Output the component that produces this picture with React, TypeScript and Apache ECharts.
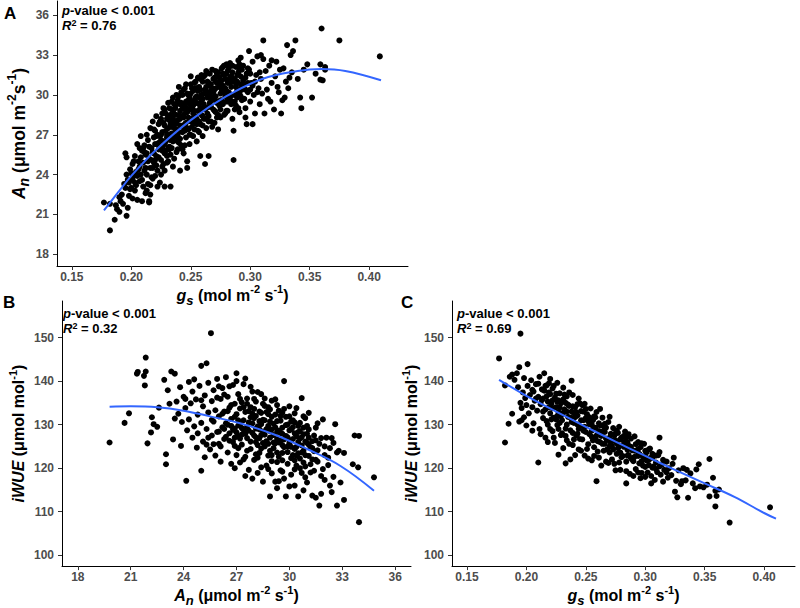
import { useEffect, useRef } from 'react';
import * as echarts from 'echarts';

const F = '"Liberation Sans", Arial, sans-serif';

const gsTicks = [0.15, 0.2, 0.25, 0.3, 0.35, 0.4];
const anTicks = [18, 21, 24, 27, 30, 33, 36];
const wueTicks = [100, 110, 120, 130, 140, 150];

const statsA = { p: '< 0.001', r2: '0.76' };
const statsB = { p: '< 0.001', r2: '0.32' };
const statsC = { p: '< 0.001', r2: '0.69' };

// Panel A: gs vs An
const pointsA: [number, number][] = [
  [0.177,21.9],[0.182,21.8],[0.182,19.8],[0.186,20.6],[0.188,21.4],[0.190,21.2],[0.191,22.0],[0.193,21.8],[0.196,20.9],[0.192,22.5],
  [0.194,23.3],[0.195,23.0],[0.196,24.0],[0.197,23.6],[0.195,25.6],[0.196,25.3],[0.198,22.4],[0.199,24.4],[0.200,23.0],[0.201,24.8],
  [0.202,23.9],[0.203,22.8],[0.203,25.4],[0.204,24.2],[0.205,22.1],[0.205,26.3],[0.206,25.0],[0.207,23.5],[0.207,24.6],[0.208,26.9],
  [0.209,25.8],[0.210,23.1],[0.210,24.9],[0.211,26.2],[0.212,22.6],[0.212,25.5],[0.213,24.0],[0.213,27.0],[0.214,23.3],[0.214,26.6],
  [0.215,25.2],[0.215,22.0],[0.216,24.5],[0.216,27.5],[0.217,26.0],[0.217,23.8],[0.218,25.7],[0.218,28.0],[0.219,24.9],[0.219,26.8],
  [0.220,23.9],[0.220,27.3],[0.221,25.4],[0.221,28.4],[0.222,26.3],[0.222,24.3],[0.223,27.8],[0.223,25.9],[0.224,23.4],[0.224,26.9],
  [0.225,28.2],[0.225,25.1],[0.226,27.2],[0.226,24.6],[0.227,26.5],[0.227,29.0],[0.228,23.1],[0.228,27.7],[0.229,25.8],[0.229,28.6],
  [0.230,26.8],[0.230,24.9],[0.231,27.5],[0.231,29.4],[0.232,26.1],[0.232,28.1],[0.233,23.1],[0.233,25.5],[0.234,27.1],[0.234,28.9],
  [0.235,26.5],[0.235,29.8],[0.236,27.9],[0.236,25.2],[0.237,28.5],[0.237,26.9],[0.238,29.3],[0.238,27.4],[0.239,25.9],[0.239,28.1],
  [0.240,26.4],[0.240,29.9],[0.241,27.7],[0.241,28.8],[0.242,26.2],[0.242,30.2],[0.243,27.2],[0.243,29.1],[0.244,28.3],[0.244,25.6],
  [0.245,27.8],[0.245,30.5],[0.246,26.8],[0.246,29.5],[0.247,24.5],[0.247,28.7],[0.248,27.4],[0.248,30.0],[0.249,28.1],[0.249,26.3],
  [0.250,29.2],[0.250,30.8],[0.251,27.6],[0.251,28.9],[0.252,26.9],[0.252,30.3],[0.253,29.6],[0.253,27.9],[0.254,28.4],[0.254,31.0],
  [0.255,26.5],[0.255,29.9],[0.256,28.8],[0.256,27.3],[0.257,30.6],[0.257,29.3],[0.258,27.8],[0.258,31.2],[0.259,28.5],[0.259,30.0],
  [0.260,26.9],[0.260,29.7],[0.261,28.2],[0.261,31.4],[0.262,24.8],[0.262,30.4],[0.263,29.0],[0.263,27.5],[0.264,31.0],[0.264,28.6],
  [0.265,30.2],[0.265,25.4],[0.266,29.4],[0.266,31.6],[0.267,28.0],[0.267,30.8],[0.268,29.6],[0.268,27.6],[0.269,31.2],[0.270,28.8],
  [0.270,30.4],[0.271,29.9],[0.271,31.8],[0.272,28.3],[0.272,30.9],[0.273,27.4],[0.273,29.5],[0.274,31.3],[0.275,30.1],[0.275,28.9],
  [0.276,32.0],[0.276,29.6],[0.277,30.7],[0.278,28.5],[0.278,31.5],[0.279,29.9],[0.280,32.3],[0.280,30.3],[0.281,28.8],[0.282,31.1],
  [0.282,29.5],[0.283,32.4],[0.284,30.6],[0.285,28.2],[0.285,31.7],[0.286,27.3],[0.286,25.1],[0.287,30.0],[0.288,32.1],[0.288,29.2],
  [0.289,31.0],[0.290,32.6],[0.290,30.4],[0.291,28.7],[0.292,31.4],[0.293,29.6],[0.294,32.2],[0.295,30.8],[0.296,29.0],[0.297,31.6],
  [0.297,27.8],[0.298,30.2],[0.299,33.3],[0.299,31.9],[0.300,29.5],[0.301,30.9],[0.302,32.5],[0.303,30.0],[0.304,28.6],[0.305,31.5],
  [0.306,32.9],[0.307,30.5],[0.308,29.3],[0.309,31.2],[0.310,30.1],[0.311,34.1],[0.311,32.7],[0.312,28.6],[0.313,31.8],[0.314,30.4],
  [0.315,29.7],[0.316,32.2],[0.318,30.9],[0.320,28.9],[0.321,31.4],[0.322,32.5],[0.324,30.2],[0.325,31.9],[0.327,29.6],[0.328,32.0],
  [0.330,31.0],[0.331,33.75],[0.332,30.5],[0.334,33.0],[0.335,31.7],[0.336,33.3],[0.338,34.1],[0.340,31.2],[0.342,29.8],[0.343,29.0],
  [0.345,31.9],[0.348,32.3],[0.352,29.8],[0.355,31.6],[0.359,32.3],[0.359,31.15],[0.360,35.0],[0.361,31.1],[0.363,32.1],[0.363,31.9],
  [0.375,34.1],[0.409,32.9],
  [0.219,25.6],[0.221,26.9],[0.223,26.4],[0.225,27.0],[0.226,25.8],[0.228,26.3],[0.229,27.3],[0.231,26.0],[0.232,27.0],[0.233,28.5],
  [0.235,27.6],[0.236,26.8],[0.237,27.4],[0.238,28.0],[0.240,27.2],[0.241,26.7],[0.242,28.4],[0.243,27.6],[0.244,29.0],[0.245,28.6],
  [0.246,27.9],[0.247,29.4],[0.248,28.3],[0.249,27.0],[0.250,28.0],[0.251,29.5],[0.252,28.6],[0.253,27.4],[0.254,29.8],[0.255,28.2],
  [0.256,30.3],[0.257,28.0],[0.258,29.0],[0.259,29.5],[0.260,28.4],[0.261,30.1],[0.262,28.9],[0.263,30.6],[0.264,29.8],[0.265,28.4],
  [0.266,30.0],[0.267,29.1],[0.268,30.5],[0.269,28.9],[0.270,29.7],[0.271,30.5],[0.272,29.4],[0.273,30.9],[0.274,29.2],[0.275,31.0],
  [0.276,30.4],[0.277,29.3],[0.278,30.2],[0.279,31.2],[0.280,29.5],[0.281,30.9],[0.282,30.2],[0.283,29.8],[0.284,31.4],[0.285,30.0],
  [0.287,31.2],[0.288,30.6],[0.289,29.8],[0.290,31.7],[0.291,30.1],[0.292,30.8],[0.293,31.9],[0.294,30.5],[0.295,29.7],[0.296,31.3],
  [0.298,30.9],[0.300,31.6],[0.302,30.7],[0.304,31.0],[0.306,30.2],[0.308,31.7],[0.243,25.9],[0.238,25.7],[0.230,25.4],[0.225,24.0],
  [0.218,23.7],[0.212,24.5],[0.208,24.0],[0.214,25.0],[0.220,25.1],[0.227,24.8],[0.234,26.0],[0.239,26.5],[0.245,26.2],[0.250,27.0],
  [0.255,27.8],[0.260,27.7],[0.265,28.0],[0.270,27.9],[0.275,28.3],[0.280,28.8],[0.258,25.4],[0.247,25.0],[0.235,24.6],[0.228,24.3],
  [0.241,24.3],[0.209,22.0],[0.203,23.4],[0.199,22.9],[0.190,22.3],[0.187,21.7],[0.197,21.5],[0.201,22.2],[0.215,21.9],[0.216,22.5],
  [0.302,27.8],[0.296,28.3],[0.317,29.5],[0.323,30.6],[0.326,28.6],[0.329,29.8],[0.333,31.3],[0.318,32.6],[0.309,33.0],[0.292,32.8],
  [0.222,27.0],[0.224,28.0],[0.226,28.6],[0.228,28.9],[0.230,28.2],[0.232,29.0],[0.234,29.5],[0.236,28.6],[0.238,30.0],[0.240,28.5],
  [0.242,29.4],[0.244,30.4],[0.246,29.0],[0.248,29.6],[0.250,30.1],[0.252,29.2],[0.254,30.5],[0.256,31.3],[0.258,30.4],[0.260,31.0],
  [0.262,31.5],[0.264,30.0],[0.266,30.7],[0.268,31.9],[0.270,31.3],[0.272,31.6],[0.274,30.6],[0.276,31.1],[0.278,32.2],[0.280,31.6],
  [0.282,32.0],[0.284,29.3],[0.286,31.0],[0.288,30.9],[0.290,29.0],[0.292,29.9],[0.294,31.1],[0.296,30.4],[0.298,32.0],[0.300,30.4],
  [0.215,26.1],[0.217,25.1],[0.219,27.4],[0.221,24.7],[0.223,25.3],[0.225,26.6],[0.227,27.9],[0.229,26.5],[0.231,25.0],[0.233,26.6],
  [0.235,28.2],[0.237,27.8],[0.239,26.9],[0.241,29.3],[0.243,28.4],[0.245,27.3],[0.247,27.5],[0.249,29.8],[0.251,28.2],[0.253,28.8],
  [0.255,30.5],[0.257,27.2],[0.259,28.9],[0.261,29.3],[0.263,28.2],[0.265,29.1],[0.267,30.3],[0.269,29.8],[0.271,28.7],[0.273,28.5],
  [0.275,29.6],[0.277,31.6],[0.279,28.6],[0.281,29.9],[0.283,30.9],[0.285,29.5],[0.287,28.9],[0.289,30.3],[0.291,31.9],[0.293,30.4],
  [0.200,24.1],[0.202,25.0],[0.204,23.2],[0.206,24.4],[0.208,25.3],[0.210,26.0],[0.211,24.3],[0.213,25.6],[0.198,23.4],[0.201,23.6],
  [0.205,23.9],[0.207,26.0],[0.209,23.6],[0.211,25.7],[0.213,22.8],[0.216,23.2],[0.218,24.5],[0.220,26.3],[0.222,23.1],
  [0.231,28.4],[0.233,27.8],[0.235,27.0],[0.237,29.0],[0.239,29.6],[0.241,28.2],[0.243,30.0],[0.245,29.2],[0.247,30.1],[0.249,28.9],
  [0.251,30.5],[0.253,30.9],[0.255,29.4],[0.257,29.8],[0.259,31.5],[0.261,29.0],[0.263,31.8],[0.265,30.9],[0.267,29.7],[0.269,30.2],
  [0.271,31.0],[0.273,31.7],[0.275,30.6],[0.277,32.1],[0.279,30.5],[0.281,31.8],[0.283,31.3],[0.285,32.2],[0.287,29.5],[0.289,31.5],
  [0.291,32.3],[0.226,26.0],[0.228,25.6],[0.230,27.0],[0.232,25.9],[0.234,27.6],[0.236,29.3],[0.240,30.6],[0.246,30.8],[0.250,31.4],
];
const fitA: [number, number][] = [
  [0.177,21.3],[0.19,22.8],[0.20,23.9],[0.22,25.8],[0.25,28.1],[0.28,29.9],[0.31,31.2],[0.34,31.8],[0.36,31.95],[0.38,31.8],[0.41,31.1],
];

// Panel B: An vs iWUE
const pointsB: [number, number][] = [
  [19.8,125.9],[20.65,130.4],[20.9,132.6],[21.35,141.7],[21.4,142.1],[21.85,145.4],[21.75,141.2],[21.85,142.2],[21.8,139.0],[21.95,125.7],
  [22.2,131.7],[22.15,128.2],[22.3,130.1],[22.5,129.5],[22.6,133.9],[22.9,140.3],[23.0,123.2],[23.0,120.9],[23.3,142.2],[23.5,141.7],
  [23.4,126.6],[23.2,134.8],[23.1,137.9],[23.6,135.3],[23.7,132.5],[23.8,138.6],[23.85,125.1],[23.9,130.6],[24.0,136.4],[24.1,133.8],
  [24.15,117.1],[24.2,128.7],[24.3,139.8],[24.3,131.2],[24.4,134.9],[24.5,127.0],[24.5,137.6],[24.6,129.6],[24.7,135.8],[24.75,124.7],
  [24.8,132.3],[24.9,138.9],[25.0,143.5],[25.0,119.4],[25.0,130.4],[25.1,126.1],[25.1,134.2],[25.2,122.5],[25.2,136.7],[25.3,144.1],
  [25.3,129.0],[25.4,132.8],[25.4,139.6],[25.5,124.3],[25.55,151.0],[25.6,127.5],[25.6,135.4],[25.7,130.7],[25.7,137.9],[25.8,122.9],
  [25.8,133.3],[25.9,128.3],[25.9,140.5],[26.0,125.6],[26.0,131.9],[26.1,135.9],[26.1,121.5],[26.2,129.4],[26.2,138.4],[26.3,133.0],
  [26.3,126.7],[26.4,140.9],[26.4,130.3],[26.5,123.6],[26.5,136.4],[26.6,128.0],[26.6,133.9],[26.7,121.0],[26.7,131.3],[26.8,139.1],
  [26.8,126.0],[26.9,134.8],[26.9,129.1],[27.0,141.8],[27.0,123.0],[27.0,132.4],[27.1,127.3],[27.1,137.0],[27.2,130.1],[27.2,121.3],
  [27.3,135.1],[27.3,125.4],[27.4,128.8],[27.4,139.3],[27.5,132.9],[27.5,122.6],[27.6,126.9],[27.6,136.0],[27.7,130.5],[27.7,119.6],
  [27.8,134.0],[27.8,124.4],[27.9,128.1],[27.9,137.6],[28.0,131.5],[28.0,121.9],[28.1,126.0],[28.1,135.3],[28.2,129.6],[28.2,118.9],
  [28.3,133.0],[28.3,123.5],[28.4,127.6],[28.4,137.0],[28.5,116.9],[28.5,131.1],[28.6,125.0],[28.6,134.3],[28.7,120.6],[28.7,129.0],
  [28.8,132.4],[28.8,122.9],[28.9,113.5],[28.9,127.0],[29.0,135.5],[29.0,118.8],[29.1,130.2],[29.1,124.6],[29.2,116.9],[29.2,135.8],
  [29.3,128.3],[29.3,121.4],[29.4,133.2],[29.4,125.9],[29.5,119.5],[29.5,130.9],[29.6,123.5],[29.6,127.9],[29.7,140.0],[29.7,117.6],
  [29.8,113.5],[29.8,131.8],[29.9,125.0],[29.9,121.0],[30.0,128.7],[30.0,134.2],[30.1,118.5],[30.1,126.4],[30.2,123.0],[30.2,131.0],
  [30.3,128.0],[30.3,116.0],[30.4,124.9],[30.4,120.6],[30.5,129.7],[30.5,113.5],[30.6,126.8],[30.6,122.2],[30.7,136.1],[30.7,118.9],
  [30.8,127.8],[30.8,124.0],[30.9,120.4],[30.9,131.5],[31.0,125.8],[31.0,116.7],[31.1,128.9],[31.1,122.8],[31.2,119.0],[31.3,113.7],
  [31.3,126.2],[31.4,119.4],[31.4,123.9],[31.5,129.3],[31.6,121.5],[31.7,111.4],[31.7,125.6],[31.8,114.1],[31.8,118.2],[31.9,131.2],
  [32.0,123.0],[32.1,127.0],[32.2,120.7],[32.3,116.0],[32.3,124.6],[32.4,114.5],[32.4,126.9],[32.5,118.0],[32.6,130.1],[32.7,123.6],
  [32.7,111.4],[32.9,116.7],[33.1,112.7],[33.6,120.9],[33.7,127.5],[33.9,120.2],[33.95,127.4],[33.95,107.6],[34.8,117.9],[32.0,117.3],
  [31.5,113.2],
  [26.2,132.5],[26.5,130.0],[26.7,134.5],[26.9,131.8],[27.1,129.8],[27.2,133.7],[27.4,131.0],[27.6,129.5],[27.7,133.1],[27.9,130.3],
  [28.0,127.5],[28.1,132.0],[28.2,125.3],[28.3,130.8],[28.4,124.5],[28.5,128.4],[28.6,131.0],[28.7,126.2],[28.8,129.7],[28.9,124.0],
  [29.0,131.8],[29.1,127.6],[29.2,125.7],[29.3,130.8],[29.4,128.6],[29.5,126.3],[29.6,129.3],[29.7,124.8],[29.8,127.4],[29.9,130.0],
  [30.0,125.8],[30.1,128.9],[30.2,126.7],[30.3,130.5],[30.4,127.3],[30.5,123.4],[30.6,128.5],[30.7,125.2],[30.8,129.3],[30.9,126.1],
  [31.0,127.9],[31.2,124.7],[27.3,127.7],[27.8,126.1],[26.8,128.8],[26.4,127.2],[25.9,136.2],[26.1,125.0],[28.6,136.0],[28.2,137.5],
  [27.5,140.6],[27.0,140.0],[29.3,134.5],[30.3,132.6],[25.4,127.0],[25.7,125.5],[26.0,138.8],[24.6,140.4],[24.1,135.9],[23.5,131.4],
  [28.9,133.5],[29.6,132.7],[30.1,122.3],[29.0,121.6],[28.4,120.2],[27.5,118.2],[29.4,117.0],[30.0,115.8],[30.9,117.9],[31.5,121.9],
  [26.3,129.0],[26.6,126.3],[26.9,125.1],[27.0,128.2],[27.2,126.8],[27.4,134.0],[27.6,124.0],[27.8,131.7],[28.0,133.6],[28.1,129.1],
  [28.3,126.9],[28.5,134.8],[28.6,127.7],[28.8,125.6],[28.9,130.7],[29.0,123.0],[29.2,132.3],[29.3,126.7],[29.5,128.1],[29.6,121.8],
  [29.8,129.9],[29.9,127.1],[30.1,124.9],[30.2,129.4],[30.3,121.8],[30.5,126.0],[30.6,130.4],[30.7,123.6],[30.8,121.3],[31.0,129.7],
  [31.1,125.4],[31.3,122.0],[31.4,127.5],[31.6,124.1],[31.8,126.9],[32.0,125.0],[32.2,122.4],[32.5,125.8],[32.8,124.0],[33.1,123.5],
  [26.0,128.4],[25.6,131.1],[25.3,125.4],[25.0,135.6],[24.8,128.0],[26.3,136.9],[26.6,138.8],[27.2,135.9],[27.8,138.7],[28.4,132.7],
  [29.0,128.9],[29.7,133.6],[30.4,133.8],[31.1,132.7],[31.6,130.3],[28.8,119.8],[29.6,119.2],[30.3,119.7],[28.1,123.2],[27.4,122.0],
  [26.9,120.0],[27.9,117.6],[30.8,114.9],[29.3,115.4],[31.9,119.8],
  [27.1,131.0],[27.3,129.2],[27.5,127.9],[27.7,128.6],[27.9,132.5],[28.1,127.1],[28.3,128.9],[28.5,125.8],[28.7,132.9],[28.9,128.5],
  [29.1,125.9],[29.3,123.6],[29.5,132.0],[29.7,126.6],[29.9,123.7],[30.1,130.7],[30.3,124.4],[30.5,128.3],[30.7,127.1],[30.9,123.0],
  [31.1,127.0],[31.3,124.6],[31.5,126.4],[26.5,133.1],[26.7,129.7],[26.9,127.0],[27.1,124.6],[27.6,134.8],[28.0,135.9],[28.4,130.1],
  [28.8,134.0],[29.2,129.4],[29.6,125.3],[30.0,131.9],[30.4,122.9],[30.8,131.9],[28.2,122.4],[29.4,122.6],[30.6,120.0],[31.2,120.9],
];
const fitB: [number, number][] = [
  [19.8,134.1],[21.0,134.2],[22.5,134.0],[24.0,133.2],[25.5,131.9],[27.2,130.3],[29.1,127.8],[31.0,124.4],[32.9,120.5],[34.8,114.8],
];

// Panel C: gs vs iWUE
const pointsC: [number, number][] = [
  [0.177,145.2],[0.195,150.9],[0.182,125.9],[0.185,130.2],[0.182,139.0],[0.194,143.2],[0.201,143.9],[0.210,121.3],[0.188,132.5],[0.194,130.7],
  [0.198,131.7],[0.259,117.0],[0.284,116.5],[0.227,123.1],[0.233,121.1],[0.241,123.0],[0.238,140.1],[0.354,122.1],[0.345,120.9],[0.335,119.6],
  [0.357,117.8],[0.359,114.8],[0.354,113.5],[0.359,111.2],[0.371,107.5],[0.405,111.0],[0.336,113.2],[0.325,114.6],[0.327,113.3],[0.342,115.4],
  [0.331,117.0],[0.312,127.0],[0.305,116.5],[0.312,123.7],[0.324,122.4],[0.349,115.6],
  [0.186,141.0],[0.188,141.5],[0.190,140.3],[0.192,141.8],[0.193,138.6],[0.195,135.0],[0.196,133.8],[0.197,137.4],[0.198,140.7],[0.199,136.1],
  [0.200,134.5],[0.201,138.9],[0.202,132.6],[0.203,136.8],[0.204,140.2],[0.205,134.0],[0.206,130.3],[0.206,137.6],[0.207,135.5],[0.208,139.3],
  [0.209,133.2],[0.210,136.4],[0.211,141.0],[0.211,129.0],[0.212,134.7],[0.213,138.1],[0.214,131.5],[0.214,136.0],[0.215,141.8],[0.216,133.5],
  [0.216,127.0],[0.217,139.0],[0.218,135.3],[0.218,130.0],[0.219,137.4],[0.220,132.6],[0.220,140.5],[0.221,134.8],[0.222,128.5],[0.222,138.3],
  [0.223,131.6],[0.224,136.2],[0.224,125.8],[0.225,134.0],[0.226,139.6],[0.226,129.9],[0.227,132.9],[0.228,137.2],[0.229,127.6],[0.229,134.9],
  [0.230,131.0],[0.231,138.5],[0.231,124.6],[0.232,133.5],[0.233,129.1],[0.234,136.5],[0.234,126.4],[0.235,131.8],[0.236,134.3],[0.237,122.0],
  [0.237,128.7],[0.238,133.0],[0.239,136.8],[0.239,125.3],[0.240,130.4],[0.241,134.0],[0.242,127.5],[0.243,132.1],[0.244,136.0],[0.244,124.3],
  [0.245,129.6],[0.246,133.1],[0.247,126.6],[0.248,131.0],[0.249,134.8],[0.249,122.9],[0.250,128.3],[0.251,132.4],[0.252,125.5],[0.253,130.1],
  [0.254,133.7],[0.255,121.8],[0.255,127.2],[0.256,131.0],[0.257,124.8],[0.258,129.3],[0.259,132.9],[0.260,126.2],[0.261,122.4],[0.262,129.8],
  [0.263,127.4],[0.264,131.6],[0.265,124.0],[0.266,128.3],[0.267,121.5],[0.268,126.5],[0.269,130.6],[0.270,123.6],[0.271,127.9],[0.272,125.1],
  [0.273,129.2],[0.274,121.0],[0.275,126.4],[0.276,123.3],[0.277,128.1],[0.278,125.0],[0.279,119.6],[0.280,127.0],[0.281,122.8],[0.282,124.9],
  [0.283,128.4],[0.284,121.5],[0.285,125.9],[0.286,123.0],[0.287,118.7],[0.288,126.8],[0.289,124.1],[0.290,121.6],[0.291,127.3],[0.292,119.8],
  [0.293,123.9],[0.294,126.0],[0.295,121.1],[0.296,124.8],[0.297,118.9],[0.298,122.7],[0.299,125.6],[0.300,120.3],[0.301,123.6],[0.302,119.0],
  [0.303,121.9],[0.304,124.5],[0.305,118.2],[0.306,122.4],[0.307,120.4],[0.308,117.3],[0.309,121.3],[0.310,119.1],[0.311,123.0],[0.313,118.5],
  [0.314,120.8],[0.315,116.9],[0.316,119.6],[0.318,121.5],[0.319,117.8],[0.320,120.0],[0.322,118.4],[0.323,121.0],[0.326,117.1],[0.328,119.5],
  [0.330,116.3],[0.332,120.0],[0.334,117.2],[0.338,118.8],[0.340,116.5],[0.343,119.7],[0.346,115.8],[0.352,116.2],[0.360,113.6],[0.362,115.1],
  [0.215,137.8],[0.219,134.0],[0.223,138.9],[0.226,135.2],[0.229,131.9],[0.232,136.9],[0.235,134.6],[0.238,130.6],[0.241,131.7],[0.244,129.0],
  [0.247,134.5],[0.250,131.5],[0.253,127.8],[0.256,129.0],[0.259,127.5],[0.262,126.0],[0.265,129.6],[0.268,124.3],[0.271,125.9],[0.274,127.5],
  [0.277,124.6],[0.280,122.5],[0.283,126.1],[0.286,125.2],[0.289,122.0],[0.292,125.5],[0.295,123.3],[0.298,120.6],[0.301,121.8],[0.304,122.3],
  [0.221,131.2],[0.227,129.0],[0.233,127.4],[0.239,128.1],[0.245,126.7],[0.251,124.4],[0.257,122.8],[0.263,120.6],[0.269,121.2],[0.275,119.5],
  [0.212,127.8],[0.218,126.0],[0.205,128.6],[0.200,129.8],[0.196,131.0],[0.262,133.6],[0.270,131.8],[0.278,129.5],[0.286,127.8],[0.294,119.0],
  [0.205,138.0],[0.208,136.0],[0.210,139.4],[0.213,135.6],[0.216,138.9],[0.219,139.5],[0.222,135.6],[0.225,137.1],[0.228,133.9],[0.231,135.8],
  [0.234,133.0],[0.236,137.4],[0.239,134.2],[0.242,132.9],[0.245,134.9],[0.248,128.6],[0.250,133.6],[0.253,131.7],[0.255,130.0],[0.258,131.7],
  [0.261,130.3],[0.264,128.4],[0.267,129.3],[0.270,127.0],[0.273,126.4],[0.276,128.6],[0.279,126.6],[0.282,127.4],[0.285,122.9],[0.288,124.9],
  [0.291,124.0],[0.294,122.8],[0.297,125.7],[0.300,122.6],[0.303,124.3],[0.306,120.1],[0.309,122.9],[0.312,120.4],[0.315,121.9],[0.318,119.0],
  [0.214,133.0],[0.217,130.8],[0.220,129.0],[0.223,127.0],[0.226,132.0],[0.230,128.0],[0.236,125.6],[0.240,126.6],[0.243,127.9],[0.246,124.0],
  [0.252,122.2],[0.256,126.4],[0.260,123.8],[0.266,125.6],[0.272,122.0],[0.278,121.3],[0.284,119.3],[0.290,118.2],[0.296,117.7],[0.300,118.0],
  [0.222,133.8],[0.225,131.2],[0.228,130.4],[0.231,132.7],[0.234,130.0],[0.237,131.6],[0.240,132.6],[0.243,130.0],[0.246,131.0],[0.249,129.5],
  [0.252,130.8],[0.255,128.6],[0.258,127.0],[0.261,128.5],[0.264,125.6],[0.267,126.8],[0.270,125.0],[0.273,124.3],[0.276,125.7],[0.279,123.6],
  [0.282,125.6],[0.285,124.2],[0.288,122.3],[0.291,122.6],[0.294,124.4],[0.297,121.6],[0.300,124.0],[0.303,120.7],[0.306,123.3],[0.309,119.8],
  [0.217,136.5],[0.220,137.0],[0.227,135.6],[0.233,135.0],[0.243,134.7],[0.248,133.0],[0.257,131.9],[0.266,130.2],[0.275,128.0],[0.284,127.0],
];
const fitC: [number, number][] = [
  [0.177,140.3],[0.20,136.6],[0.225,133.0],[0.25,129.5],[0.275,126.1],[0.30,122.8],[0.325,119.6],[0.35,116.5],[0.375,113.4],[0.40,109.7],[0.41,108.4],
];

function titleRich(size: number) {
  const lh = Math.round(size * 1.45);
  return {
    b: { fontFamily: F, fontWeight: 'bold', fontSize: size, color: '#000', lineHeight: lh },
    i: { fontFamily: F, fontWeight: 'bold', fontStyle: 'italic', fontSize: size, color: '#000', lineHeight: lh },
    sub: { fontFamily: F, fontWeight: 'bold', fontStyle: 'italic', fontSize: Math.round(size * 0.8), color: '#000', lineHeight: Math.round(size * 0.8), verticalAlign: 'bottom' },
    sup: { fontFamily: F, fontWeight: 'bold', fontSize: Math.round(size * 0.67), color: '#000', lineHeight: Math.round(size * 0.93), verticalAlign: 'top' },
  };
}
const noteRich = {
  b: { fontFamily: F, fontWeight: 'bold', fontSize: 13, color: '#000', lineHeight: 15 },
  i: { fontFamily: F, fontWeight: 'bold', fontStyle: 'italic', fontSize: 13, color: '#000', lineHeight: 15 },
  sup: { fontFamily: F, fontWeight: 'bold', fontSize: 9, color: '#000', lineHeight: 11, verticalAlign: 'top' },
};

const gsName = '{i|g}{sub|s}{b| (mol m}{sup|-2}{b| s}{sup|-1}{b|)}';
const anNameY = '{i|A}{sub|n}{b| (μmol m}{sup|-2}{b|s}{sup|-1}{b|)}';
const anNameX = '{i|A}{sub|n}{b| (μmol m}{sup|-2}{b| s}{sup|-1}{b|)}';
const wueName = '{i|iWUE}{b| (μmol mol}{sup|-1}{b|)}';

function axis(gridIndex: number, min: number, max: number, ticks: number[], dec: number, name: string, isY: boolean, nameGap: number, nameSize: number) {
  return {
    type: 'value',
    gridIndex,
    min,
    max,
    name,
    nameLocation: 'middle',
    nameGap,
    nameRotate: isY ? 90 : 0,
    nameTextStyle: { rich: titleRich(nameSize) },
    splitLine: { show: false },
    axisLine: { show: true, onZero: false, lineStyle: { color: '#000', width: 1 } },
    axisTick: { show: true, length: 4, customValues: ticks, lineStyle: { color: '#333', width: 1 } },
    axisLabel: {
      customValues: ticks,
      margin: isY ? 8 : 5,
      color: '#4D4D4D',
      fontFamily: F,
      fontWeight: 'bold',
      fontSize: 12,
      formatter: (v: number) => v.toFixed(dec),
    },
  };
}

function scatter(xi: number, data: [number, number][]) {
  return {
    type: 'scatter',
    xAxisIndex: xi,
    yAxisIndex: xi,
    data,
    symbolSize: 6,
    itemStyle: { color: '#000', opacity: 1 },
    z: 2,
  };
}

function fit(xi: number, data: [number, number][]) {
  return {
    type: 'line',
    xAxisIndex: xi,
    yAxisIndex: xi,
    data,
    smooth: 0.4,
    showSymbol: false,
    symbol: 'none',
    lineStyle: { color: '#3366FF', width: 2 },
    z: 3,
  };
}

function note(left: number, top: number, s: { p: string; r2: string }) {
  return {
    type: 'text',
    left,
    top,
    z: 10,
    style: {
      text: `{i|p}{b|-value ${s.p}}\n{i|R}{sup|2}{b| = ${s.r2}}`,
      rich: noteRich,
    },
  };
}

function letter(left: number, top: number, t: string) {
  return {
    type: 'text',
    left,
    top,
    style: { text: t, fontFamily: F, fontWeight: 'bold', fontSize: 17, fill: '#000' },
  };
}

export default function App() {
  const ref = useRef<HTMLDivElement>(null);
  useEffect(() => {
    if (!ref.current) return;
    document.body.style.margin = '0';
    const chart = echarts.init(ref.current, undefined, { renderer: 'svg' });
    chart.setOption({
      animation: false,
      backgroundColor: '#fff',
      grid: [
        { left: 57, top: 1, width: 351, height: 265 },
        { left: 62, top: 301, width: 349, height: 267 },
        { left: 452, top: 301, width: 343, height: 267 },
      ],
      xAxis: [
        axis(0, 0.1375, 0.4327, gsTicks, 2, gsName, false, 16, 16),
        axis(1, 17.1, 36.9, anTicks, 0, anNameX, false, 16, 16),
        axis(2, 0.1374, 0.426, gsTicks, 2, gsName, false, 16, 16),
      ],
      yAxis: [
        axis(0, 17.12, 37.07, anTicks, 0, anNameY, true, 26, 17.5),
        axis(1, 97.5, 158.4, wueTicks, 0, wueName, true, 32, 16),
        axis(2, 97.5, 158.4, wueTicks, 0, wueName, true, 29, 16),
      ],
      series: [
        scatter(0, pointsA), fit(0, fitA),
        scatter(1, pointsB), fit(1, fitB),
        scatter(2, pointsC), fit(2, fitC),
      ],
      graphic: [
        letter(4, 5, 'A'),
        letter(3, 294, 'B'),
        letter(401, 294, 'C'),
        note(62, 4, statsA),
        note(63, 307, statsB),
        note(457, 307, statsC),
      ],
    });
    return () => chart.dispose();
  }, []);
  return <div ref={ref} style={{ position: 'absolute', left: 0, top: 0, width: 800, height: 608 }} />;
}
